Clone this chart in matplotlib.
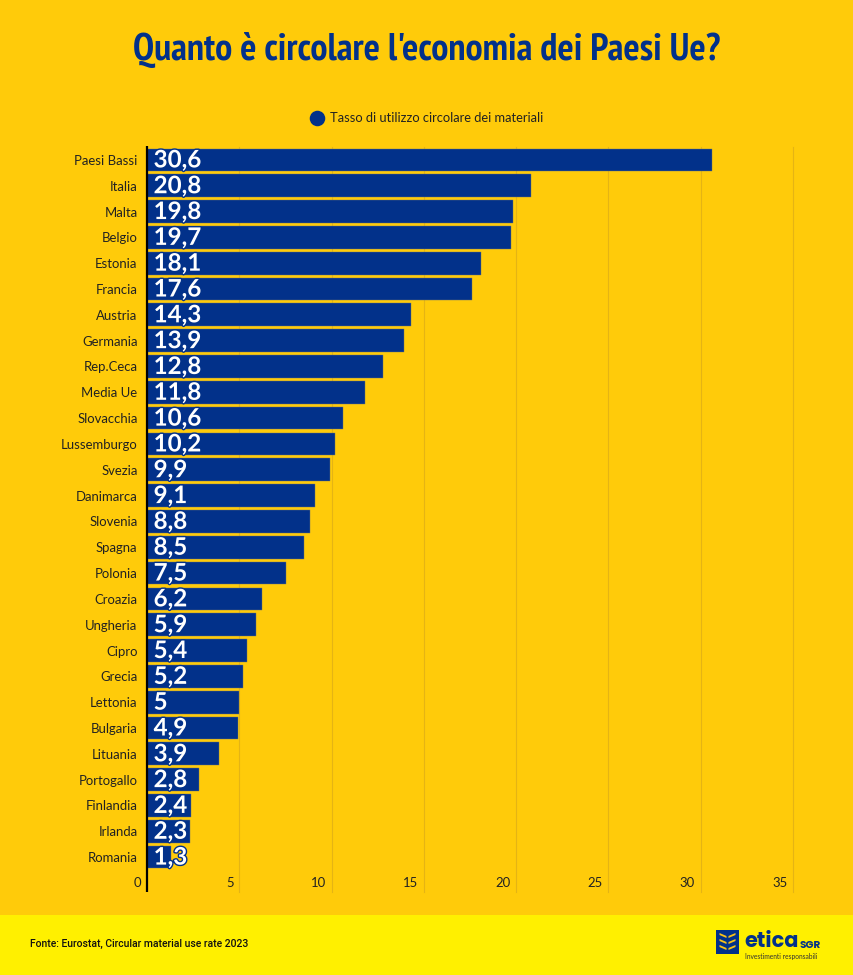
import matplotlib
matplotlib.use('Agg')
import matplotlib.pyplot as plt
import matplotlib.patheffects as pe
from matplotlib import font_manager as fm
from matplotlib.patches import Rectangle, Polygon

paesi = ['Paesi Bassi', 'Italia', 'Malta', 'Belgio', 'Estonia', 'Francia', 'Austria',
         'Germania', 'Rep.Ceca', 'Media Ue', 'Slovacchia', 'Lussemburgo', 'Svezia',
         'Danimarca', 'Slovenia', 'Spagna', 'Polonia', 'Croazia', 'Ungheria', 'Cipro',
         'Grecia', 'Lettonia', 'Bulgaria', 'Lituania', 'Portogallo', 'Finlandia',
         'Irlanda', 'Romania']
valori = [30.6, 20.8, 19.8, 19.7, 18.1, 17.6, 14.3, 13.9, 12.8, 11.8, 10.6, 10.2, 9.9,
          9.1, 8.8, 8.5, 7.5, 6.2, 5.9, 5.4, 5.2, 5, 4.9, 3.9, 2.8, 2.4, 2.3, 1.3]
xtick_vals = [0, 5, 10, 15, 20, 25, 30, 35]

W, H = 854, 975
NAVY = '#02318A'
SFONDO = '#FFCB0A'
FOOTER = '#FFF000'

plt.rcParams['font.family'] = ['Lato', 'DejaVu Sans']

installed = {f.name for f in fm.fontManager.ttflist}
font_titolo = 'PT Sans Narrow' if 'PT Sans Narrow' in installed else 'Liberation Sans'
size_titolo = 27.5 if font_titolo == 'PT Sans Narrow' else 20
font_logo = 'Poppins' if 'Poppins' in installed else 'Lato'

fig = plt.figure(figsize=(W / 100, H / 100), dpi=100, facecolor=SFONDO)

# footer band and logo live in a full-figure axes, in pixel coords
bg = fig.add_axes([0, 0, 1, 1], zorder=0)
bg.set_xlim(0, W)
bg.set_ylim(H, 0)
bg.axis('off')
bg.add_patch(Rectangle((0, 915), W, 60, color=FOOTER, lw=0))
bg.text(30, 944, 'Fonte: Eurostat, Circular material use rate 2023', fontsize=7.5,
        family='Roboto', color='#111111', va='center', ha='left', weight='medium')

bg.add_patch(Rectangle((716, 930), 23, 24, color=NAVY, lw=0))
for sx in (-1, 1):
    for y0 in (936, 942, 948):
        bg.add_patch(Polygon([(727.5 + sx * 1, y0), (727.5 + sx * 8, y0 - 3),
                              (727.5 + sx * 8, y0 - 1), (727.5 + sx * 1, y0 + 2)],
                             color='#F9C21A', lw=0))
bg.text(744, 942, 'etica', fontsize=15, color=NAVY, weight='bold', va='center', ha='left',
        family=font_logo)
bg.text(800, 945, 'SGR', fontsize=7.5, color=NAVY, weight='bold', va='center', ha='left',
        family=font_logo)
bg.text(745, 956, 'Investimenti responsabili', fontsize=4.8, color='#333333', va='center', ha='left')

# title and legend
bg.text(427, 50, "Quanto è circolare l'economia dei Paesi Ue?", fontsize=size_titolo,
        family=font_titolo, weight='bold', color=NAVY, ha='center', va='center')
bg.scatter([317], [118], s=125, color=NAVY, lw=0)
bg.text(330, 118, 'Tasso di utilizzo circolare dei materiali', fontsize=9.3,
        color='#222222', va='center', ha='left')

# main chart
left, right, top, bottom = 147.2, 793, 147, 870
ax = fig.add_axes([left / W, 1 - bottom / H, (right - left) / W, (bottom - top) / H],
                  zorder=1)
ax.patch.set_alpha(0)
pos = list(range(len(paesi)))
ax.barh(pos, valori, height=0.88, color=NAVY, edgecolor='#6B7478', linewidth=0.3, zorder=2)
ax.set_ylim(len(paesi) - 0.5, -0.5)
ax.set_xlim(0, 35)

for s in ('top', 'right', 'bottom', 'left'):
    ax.spines[s].set_visible(False)

ax.set_yticks(pos)
ax.set_yticklabels(paesi, fontsize=9.45, color='#222222')
ax.tick_params(axis='y', length=0, pad=7)
ax.set_xticks([])

# grid goes below the axes down past the tick labels
tick_y = -22 / (bottom - top)
for v in xtick_vals[1:]:
    ax.plot([v, v], [1.0, tick_y], transform=ax.get_xaxis_transform(), clip_on=False,
            color='#E5B414', lw=0.8, zorder=1)
ax.plot([0, 0], [1.002, tick_y], transform=ax.get_xaxis_transform(),
        clip_on=False, color='black', lw=1.6, zorder=5, solid_capstyle='butt')

for v in xtick_vals:
    ax.annotate(str(v), xy=(v, 0), xycoords=ax.get_xaxis_transform(), xytext=(-4, -9.5),
                textcoords='offset points', ha='right', va='center', fontsize=9.45,
                color='#222222')

for i, v in enumerate(valori):
    ax.annotate(str(v).replace('.', ','), xy=(0, i), xytext=(4.6, 0), textcoords='offset points',
                ha='left', va='center', fontsize=17.4, weight='bold', color='white', zorder=6,
                path_effects=[pe.withStroke(linewidth=2, foreground=NAVY)])

fig.savefig('out.png', dpi=100, facecolor=SFONDO)
